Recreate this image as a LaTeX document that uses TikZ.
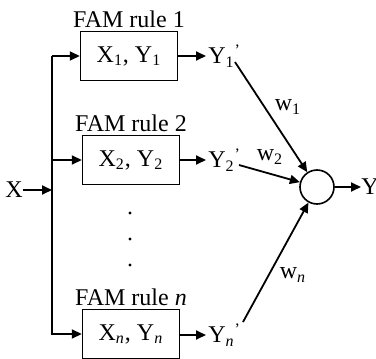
\documentclass[tikz,border=0pt]{standalone}
\usepackage{fontspec}
\setmainfont{Liberation Serif}
\usetikzlibrary{positioning, arrows.meta}

\tikzset{
  rulebox/.style={draw, line width=0.7pt, minimum width=48.5pt, minimum height=24.5pt, inner sep=0pt},
  flow/.style={line width=0.9pt, -{Triangle[length=5pt, width=4.5pt]}},
  wlabel/.style={inner sep=0pt}
}

\begin{document}
\begin{tikzpicture}[x=0.5pt, y=-0.5pt, font=\fontsize{12}{14}\selectfont]
\useasboundingbox (0,0) rectangle (376,359);

% input and bus
\node[inner sep=0pt] (x) at (14,190) {X};
\coordinate (tx) at (52,190);
\coordinate (t1) at (52,56);
\coordinate (t2) at (52,160);
\coordinate (tn) at (52,335);
\draw[line width=0.9pt] (t1) -- (tn);
\draw[flow] (x) -- (tx);

% FAM rules
\node[rulebox] (b1) at (129,56) {X\textsubscript{1}, Y\textsubscript{1}};
\node[rulebox] (b2) at (131,160) {X\textsubscript{2}, Y\textsubscript{2}};
\node[rulebox] (bn) at (131,334) {X\textsubscript{\textit{n}}, Y\textsubscript{\textit{n}}};
\node[above=1.5pt of b1, inner sep=0pt] (r1) {FAM rule 1};
\node[above=1.5pt of b2, inner sep=0pt] (r2) {FAM rule 2};
\node[above=1.5pt of bn, inner sep=0pt] (rn) {FAM rule \textit{n}};
\foreach \y in {213,239,265} \fill (130,\y) circle (0.8pt);

\draw[flow] (t1) -- (b1.west);
\draw[flow] (t2) -- (b2.west);
\draw[flow] (tn |- bn) -- (bn.west);

% rule outputs
\node[anchor=west, inner sep=1pt] (y1) at (206,56) {Y\textsubscript{1}\textsuperscript{'}};
\node[anchor=west, inner sep=1pt] (y2) at (206,160) {Y\textsubscript{2}\textsuperscript{'}};
\node[anchor=west, inner sep=1pt] (yn) at (206,335) {Y\textsubscript{\textit{n}}\textsuperscript{'}};
\draw[flow] (b1.east) -- (y1.west);
\draw[flow] (b2.east) -- (y2.west);
\draw[flow] (bn.east |- yn) -- (yn.west);

% weighted sum
\node[draw, circle, line width=0.8pt, minimum size=17pt, inner sep=0pt] (sum) at (317,187) {};
\coordinate (s1) at (235,62);
\coordinate (s2) at (239,165);
\coordinate (sn) at (243,322);
\draw[flow] (s1) -- (sum);
\draw[flow] (s2) -- (sum);
\draw[flow] (sn) -- (sum);
\node[wlabel] (w1) at (288,107) {w\textsubscript{1}};
\node[wlabel] (w2) at (270,157) {w\textsubscript{2}};
\node[wlabel] (wn) at (293,275) {w\textsubscript{\textit{n}}};

\node[anchor=west, inner sep=0pt] (y) at (361,187) {Y};
\draw[flow] (sum) -- (y);
\end{tikzpicture}
\end{document}
